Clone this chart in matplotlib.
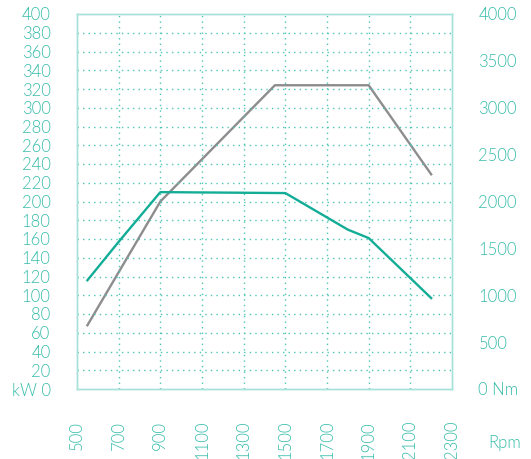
import matplotlib.pyplot as plt
from matplotlib.ticker import FixedLocator, FixedFormatter

plt.rcParams['font.family'] = ['Lato', 'DejaVu Sans']
plt.rcParams['font.weight'] = 300

# power curve (kW, left axis)
power_rpm = [550, 700, 900, 1500, 1800, 1900, 2200]
power_kw = [116, 157, 210, 209, 170, 161, 97]

# torque curve (Nm, right axis)
torque_rpm = [550, 900, 1450, 1900, 2200]
torque_nm = [680, 2000, 3240, 3240, 2290]

x_ticks = list(range(500, 2301, 200))
kw_ticks = list(range(0, 401, 20))
nm_ticks = list(range(0, 4001, 500))
kw_labels = ['kW 0'] + [str(v) for v in kw_ticks[1:]]
nm_labels = ['0 Nm'] + [str(v) for v in nm_ticks[1:]]

teal = '#13ad97'
grey = '#8d8d8f'
label_col = '#36bcaa'
grid_col = '#4cc6b4'
spine_col = '#a6e2d9'

fig = plt.figure(figsize=(5.31, 4.59), dpi=100)
ax = fig.add_axes([77 / 531, 1 - 389 / 459, 375 / 531, 375 / 459])
ax2 = ax.twinx()

ax.set_xlim(500, 2300)
ax.set_ylim(0, 400)
ax2.set_ylim(0, 4000)

# dotted grid
for x in x_ticks[1:-1]:
    ax.axvline(x, color=grid_col, lw=1, ls=(0, (1, 3)), zorder=1)
for y in kw_ticks[1:-1]:
    ax.axhline(y, color=grid_col, lw=1, ls=(0, (1, 3)), zorder=1)

ax2.plot(torque_rpm, torque_nm, color=grey, lw=1.7, zorder=3)
ax.plot(power_rpm, power_kw, color=teal, lw=1.7, zorder=4)
ax.set_zorder(ax2.get_zorder() + 1)
ax.patch.set_visible(False)

ax.xaxis.set_major_locator(FixedLocator(x_ticks))
ax.xaxis.set_major_formatter(FixedFormatter([str(v) for v in x_ticks]))
ax.yaxis.set_major_locator(FixedLocator(kw_ticks))
ax.yaxis.set_major_formatter(FixedFormatter(kw_labels))
ax2.yaxis.set_major_locator(FixedLocator(nm_ticks))
ax2.yaxis.set_major_formatter(FixedFormatter(nm_labels))

ax.tick_params(axis='x', length=0, pad=23, labelsize=12, labelcolor=label_col,
               labelrotation=90)
ax.tick_params(axis='y', length=0, pad=19, labelsize=12, labelcolor=label_col)
ax2.tick_params(axis='y', length=0, pad=19, labelsize=12, labelcolor=label_col)

for a in (ax, ax2):
    for s in a.spines.values():
        s.set_color(spine_col)
        s.set_linewidth(1)

fig.text(505 / 531, 1 - 443 / 459, 'Rpm', color=label_col, fontsize=12,
         ha='center', va='center')

fig.savefig('out.png', dpi=100)
